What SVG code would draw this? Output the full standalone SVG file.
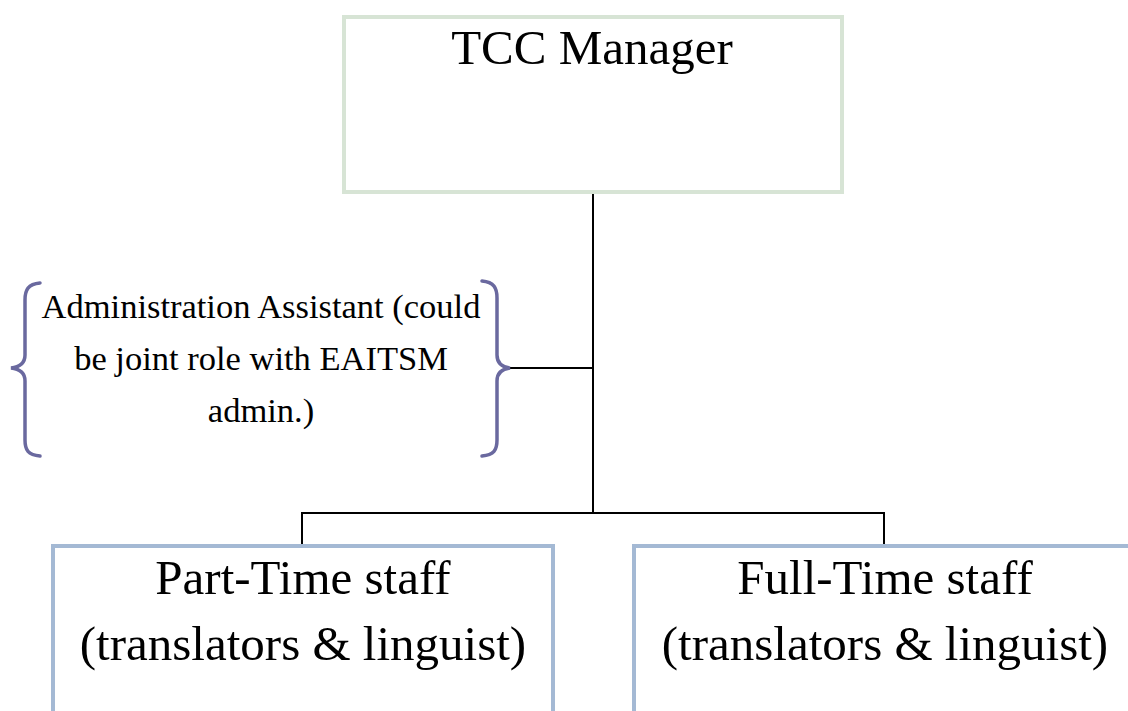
<svg xmlns="http://www.w3.org/2000/svg" width="1128" height="711" viewBox="0 0 1128 711">
  <style>
    text { font-family: "Liberation Serif", "Times New Roman", serif; fill: #000; text-anchor: middle; }
    .big { font-size: 49px; }
    .small { font-size: 34.5px; }
    .manager { fill: #fff; stroke: #d7e4d5; stroke-width: 4; }
    .staff { fill: #fff; stroke: #a4b9d4; stroke-width: 4; }
    .wire { fill: none; stroke: #000; stroke-width: 2; }
    .brace { fill: none; stroke: #6a699f; stroke-width: 3.5; stroke-linecap: round; }
  </style>
  <rect width="1128" height="711" fill="#fff"/>

  <!-- connectors -->
  <g id="connectors">
    <line class="wire" x1="593" y1="193" x2="593" y2="513"/>
    <line class="wire" x1="510" y1="368" x2="593" y2="368"/>
    <polyline class="wire" points="302,546 302,513 884,513 884,546"/>
  </g>

  <g id="tcc-manager">
    <rect class="manager" x="344" y="17" width="498" height="175"/>
    <text class="big" x="592" y="64">TCC Manager</text>
  </g>

  <g id="admin-assistant">
    <path class="brace" d="M40,283 C28,284 25,290 25,300 L25,355 C25,363 20,367 11,368 C20,369 25,373 25,381 L25,440 C25,450 28,455 40,456"/>
    <path class="brace" d="M482,281 C494,282 497,288 497,298 L497,355 C497,363 502,367 510,368 C502,369 497,373 497,381 L497,440 C497,450 494,455 482,456"/>
    <text class="small" x="261" y="318">Administration Assistant (could</text>
    <text class="small" x="261" y="370">be joint role with EAITSM</text>
    <text class="small" x="261" y="422">admin.)</text>
  </g>

  <g id="part-time-staff">
    <rect class="staff" x="53" y="546" width="500" height="200"/>
    <text class="big" x="303" y="594">Part-Time staff</text>
    <text class="big" x="303" y="660">(translators &amp; linguist)</text>
  </g>

  <g id="full-time-staff">
    <rect class="staff" x="634" y="546" width="502" height="200"/>
    <text class="big" x="885" y="594">Full-Time staff</text>
    <text class="big" x="885" y="660">(translators &amp; linguist)</text>
  </g>
</svg>
